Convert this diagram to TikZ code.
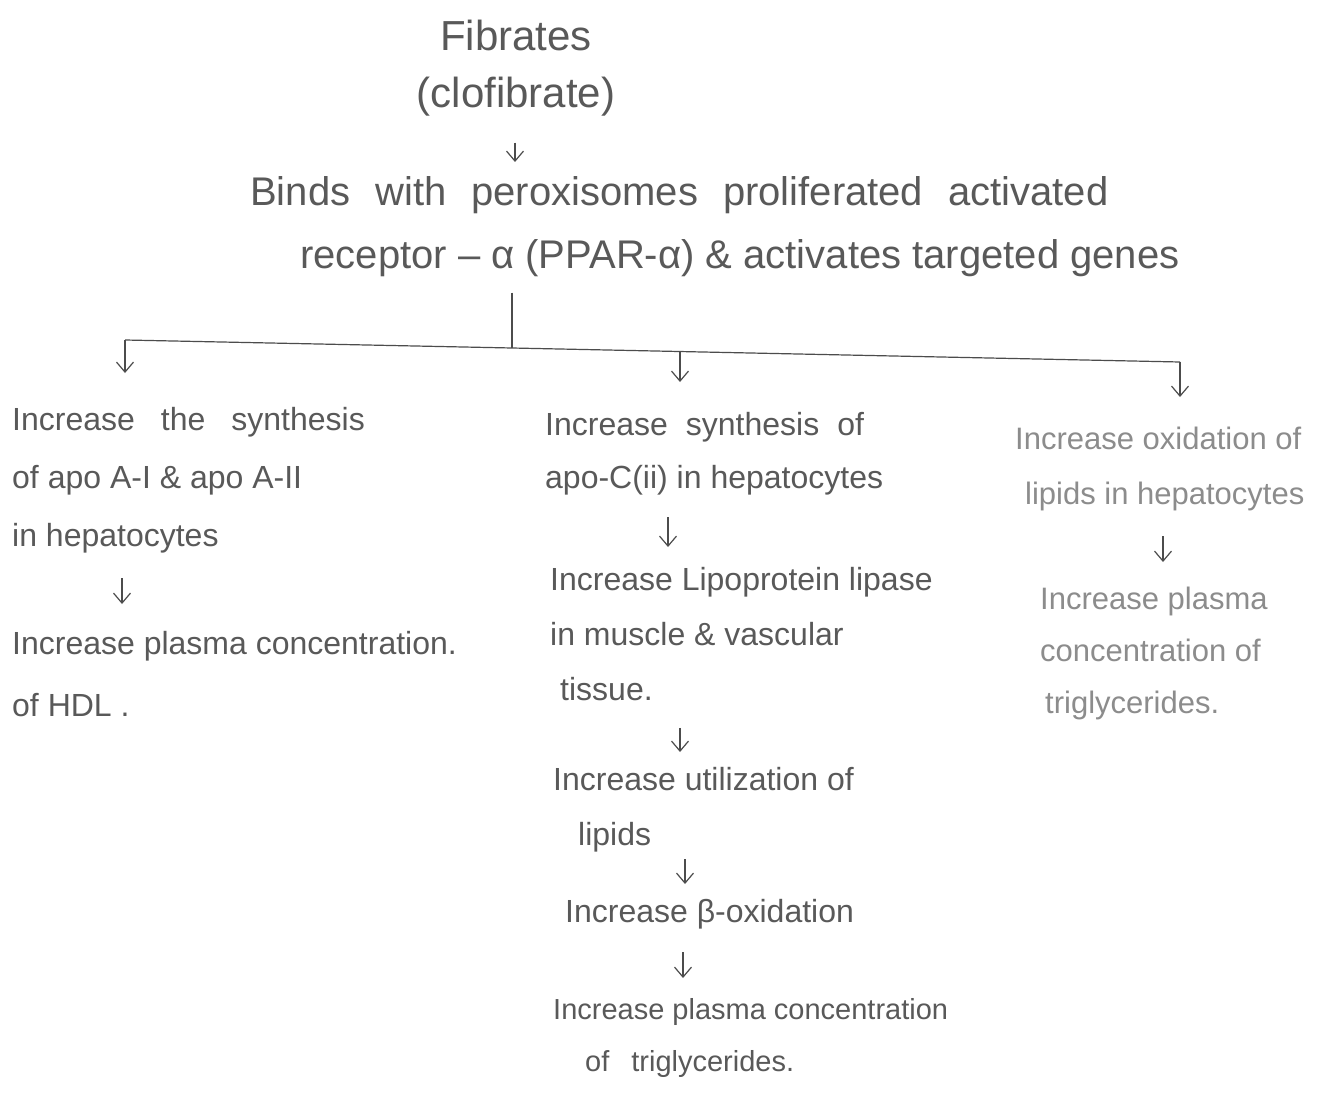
\documentclass[tikz,border=0pt]{standalone}
\usepackage{fontspec}
\setmainfont{Liberation Sans}
\usetikzlibrary{arrows.meta}
\newcommand{\wgap}[1]{\hspace*{#1}}
\begin{document}
\begin{tikzpicture}[x=1pt,y=-1pt,
  txt/.style={inner sep=0pt, align=left, anchor=north west, text=black!65,
    font=\fontsize{32}{58}\selectfont},
  faint/.style={txt, text=black!45, font=\fontsize{31}{55}\selectfont},
  link/.style={draw=black!70, line width=1.2pt},
  arr/.style={link, -{Straight Barb[length=10pt,width=17pt]}},
]
\useasboundingbox[fill=white] (0,0) rectangle (1319,1094);

% top
\node[txt, align=center, anchor=north, font=\fontsize{42}{57}\selectfont] (T) at (516,20)
  {Fibrates\\(clofibrate)};
\node[txt, font=\fontsize{40}{63}\selectfont] (P) at (250,176)
  {Binds\wgap{25pt}with\wgap{25pt}peroxisomes\wgap{25pt}proliferated\wgap{25pt}activated\\
   \wgap{50pt}receptor – α (PPAR-α) \& activates targeted genes};

% left branch
\node[txt] (A1) at (12,407)
  {Increase\wgap{26pt}the\wgap{26pt}synthesis\\of apo A-I \& apo A-II\\in hepatocytes};
\node[txt, font=\fontsize{32}{62}\selectfont] (A2) at (12,631)
  {Increase plasma concentration.\\of HDL .};

% middle branch
\node[txt, font=\fontsize{32}{53}\selectfont] (B1) at (545,412)
  {Increase\wgap{18pt}synthesis\wgap{18pt}of\\apo-C(ii) in hepatocytes};
\node[txt, font=\fontsize{32}{55}\selectfont] (B2) at (550,567)
  {Increase Lipoprotein lipase\\in muscle \& vascular\\\wgap{10pt}tissue.};
\node[txt, font=\fontsize{32}{55}\selectfont] (B3) at (553,767)
  {Increase utilization of\\\wgap{25pt}lipids};
\node[txt] (B4) at (565,899) {Increase β-oxidation};
\node[txt, font=\fontsize{29}{52}\selectfont] (B5) at (553,998)
  {Increase plasma concentration\\\wgap{32pt}of\wgap{22pt}triglycerides.};

% right branch
\node[faint] (C1) at (1015,427)
  {Increase oxidation of\\\wgap{10pt}lipids in hepatocytes};
\node[faint, font=\fontsize{31}{52}\selectfont] (C2) at (1040,587)
  {Increase plasma\\concentration of\\\wgap{5pt}triglycerides.};

% connector geometry
\coordinate (jL) at (125,340);
\coordinate (jM) at (512,348);
\coordinate (jC) at (680,352);
\coordinate (jR) at (1180,362);
\coordinate (xT) at (515,0);
\coordinate (xA) at (122,0);
\coordinate (xB1) at (668,0);
\coordinate (xB2) at (680,0);
\coordinate (xB3) at (685,0);
\coordinate (xB4) at (683,0);
\coordinate (xC) at (1163,0);

\draw[arr, shorten <=26pt, shorten >=14pt] (T.south -| xT) -- (P.north -| xT);
\draw[link, shorten <=16pt] (P.south -| jM) -- (jM);
\draw[link] (jL) -- (jM) -- (jR);

\draw[arr, shorten >=34pt] (jL) -- (A1.north -| jL);
\draw[arr, shorten >=30pt] (jC) -- (B1.north -| jC);
\draw[arr, shorten >=30pt] (jR) -- (C1.north -| jR);

\draw[arr, shorten <=25pt, shorten >=27pt] (A1.south -| xA) -- (A2.north -| xA);
\draw[arr, shorten <=22pt, shorten >=20pt] (B1.south -| xB1) -- (B2.north -| xB1);
\draw[arr, shorten <=27pt, shorten >=15pt] (B2.south -| xB2) -- (B3.north -| xB2);
\draw[arr, shorten <=7pt, shorten >=15pt] (B3.south -| xB3) -- (B4.north -| xB3);
\draw[arr, shorten <=23pt, shorten >=20pt] (B4.south -| xB4) -- (B5.north -| xB4);
\draw[arr, shorten <=25pt, shorten >=25pt] (C1.south -| xC) -- (C2.north -| xC);
\end{tikzpicture}
\end{document}
